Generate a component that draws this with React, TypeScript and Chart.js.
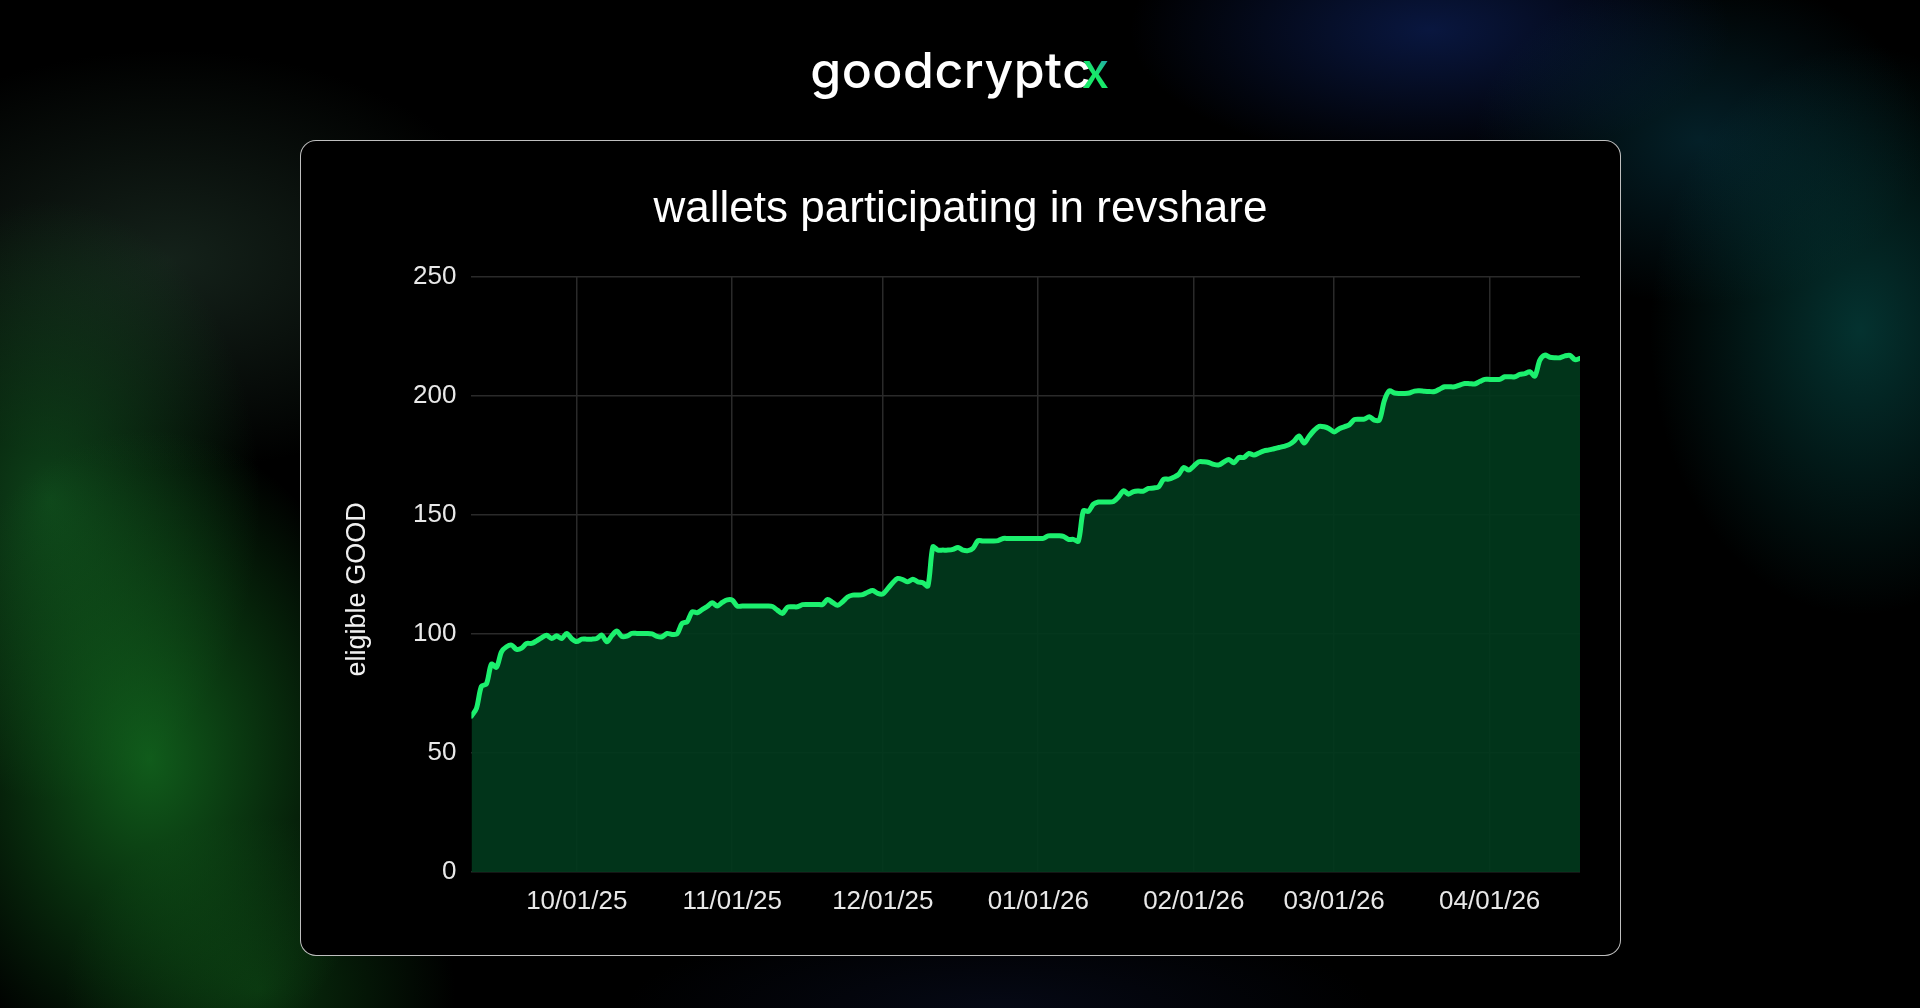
import React, { useEffect, useRef } from 'react';
import { Chart, registerables } from 'chart.js';

Chart.register(...registerables);

// Daily series starting 2025-09-10 (day index 0)
const chartTitle = 'wallets participating in revshare';
const yAxisTitle = 'eligible GOOD';

const walletCounts: number[] = [
  65.5, 68.7, 78, 79, 87.3, 86, 92.5, 94.6, 95.3, 93.5,
  94, 96, 96, 97.1, 98.4, 99.4, 98.1, 99.2, 98.1, 100.2,
  98, 96.8, 97.8, 97.8, 97.8, 98.1, 99.5, 96.7, 99.3, 101.2,
  98.9, 99.1, 100.2, 100.2, 100.2, 100.2, 100, 99, 98.8, 100.2,
  99.8, 100, 104.4, 105.1, 109.3, 108.9, 110.2, 111.5, 113.1, 111.7,
  113.2, 114.3, 114.2, 111.7, 111.7, 111.7, 111.7, 111.7, 111.7, 111.7,
  111.5, 110, 108.6, 111.2, 111.4, 111.4, 112.3, 112.4, 112.4, 112.4,
  112.4, 114.5, 113.2, 112, 113.5, 115.5, 116.3, 116.3, 116.5, 117.5,
  118.2, 117, 116.8, 119, 121.5, 123.3, 122.8, 121.9, 123, 121.9,
  121.5, 120.1, 136.6, 135.2, 135.2, 135.2, 135.5, 136.3, 135.2, 135,
  136, 139.2, 139, 139, 139, 139.2, 140.1, 140.1, 140.1, 140.1,
  140.1, 140.1, 140.1, 140.1, 140.1, 141.2, 141.2, 141.2, 141, 139.7,
  139.7, 139, 151.7, 151.5, 154.5, 155.4, 155.4, 155.4, 155.6, 157.5,
  160.1, 158.7, 159.8, 160, 160, 161.1, 161.3, 161.8, 165, 165,
  165.8, 167, 169.9, 168.8, 170.5, 172.3, 172.3, 172, 171.2, 171,
  172.2, 173.3, 171.9, 174.1, 174.1, 175.8, 175.1, 176, 176.9, 177.3,
  177.8, 178.3, 178.8, 179.5, 181, 183.1, 180.2, 183, 185.5, 187.2,
  187, 186.2, 184.8, 186.2, 187, 187.8, 190, 190.2, 190.2, 191.2,
  189.8, 189.8, 198, 202.1, 201.2, 201, 201, 201.2, 202, 202.1,
  201.9, 201.8, 201.8, 202.8, 203.8, 203.8, 203.8, 204.5, 205.2, 205.1,
  205, 206, 206.9, 206.9, 206.9, 206.9, 208, 208, 208, 209,
  209.3, 210.1, 208.3, 215, 217.1, 216.2, 216, 216, 216.8, 217,
  215.2, 215.7,
];

// Day indices (from 2025-09-10) of the first day of each month, with their labels
const monthTickDays = [21, 52, 82, 113, 144, 172, 203];
const monthTickLabels = ['10/01/25', '11/01/25', '12/01/25', '01/01/26', '02/01/26', '03/01/26', '04/01/26'];

const yMin = 0;
const yMax = 250;
const yStep = 50;

const FONT = '"Liberation Sans", Arial, Helvetica, sans-serif';

// Draws the rotated y-axis title, sitting slightly below the axis centre as in the reference
const yTitlePlugin = {
  id: 'yTitlePlugin',
  afterDraw(chart: any) {
    const { ctx, chartArea } = chart;
    ctx.save();
    ctx.font = `27px ${FONT}`;
    ctx.fillStyle = '#f0f0f0';
    ctx.textAlign = 'center';
    ctx.textBaseline = 'middle';
    ctx.translate(58, (chartArea.top + chartArea.bottom) / 2 + 15);
    ctx.rotate(-Math.PI / 2);
    ctx.fillText(yAxisTitle, 0, 0);
    ctx.restore();
  },
};

function RevshareChart() {
  const canvasRef = useRef<HTMLCanvasElement | null>(null);

  useEffect(() => {
    if (!canvasRef.current) return;
    const points = walletCounts.map((v, i) => ({ x: i, y: v }));
    const chart = new Chart(canvasRef.current, {
      type: 'line',
      data: {
        datasets: [
          {
            label: yAxisTitle,
            data: points,
            borderColor: '#1cf06e',
            backgroundColor: 'rgba(1, 56, 28, 0.92)',
            borderWidth: 5,
            pointRadius: 0,
            pointHoverRadius: 0,
            tension: 0.3,
            fill: 'origin',
            borderJoinStyle: 'round',
            borderCapStyle: 'round',
          },
        ],
      },
      plugins: [yTitlePlugin],
      options: {
        animation: false,
        responsive: true,
        maintainAspectRatio: false,
        layout: { padding: { left: 41, right: 41, top: 0, bottom: 0 } },
        plugins: {
          legend: { display: false },
          tooltip: { enabled: false },
          title: {
            display: true,
            text: chartTitle,
            color: '#ffffff',
            font: { family: FONT, size: 44, weight: 'normal' },
            padding: { top: 43.5, bottom: 40.5 },
          },
        },
        scales: {
          x: {
            type: 'linear',
            min: 0,
            max: walletCounts.length - 1,
            border: { display: false },
            grid: { color: '#2a2a2a', lineWidth: 1.5, drawTicks: false },
            afterBuildTicks: (scale: any) => {
              scale.ticks = monthTickDays.map((d) => ({ value: d }));
            },
            afterFit: (scale: any) => {
              scale.height = 84;
            },
            ticks: {
              color: '#e8e8e8',
              font: { family: FONT, size: 26 },
              padding: 14.5,
              maxRotation: 0,
              autoSkip: false,
              callback: (value: any) => {
                const idx = monthTickDays.indexOf(Number(value));
                return idx >= 0 ? monthTickLabels[idx] : '';
              },
            },
          },
          y: {
            min: yMin,
            max: yMax,
            border: { display: false },
            grid: { color: '#2a2a2a', lineWidth: 1.5, drawTicks: false },
            afterFit: (scale: any) => {
              scale.width = 130.4;
            },
            ticks: {
              stepSize: yStep,
              color: '#e8e8e8',
              font: { family: FONT, size: 26 },
              padding: 15,
            },
          },
        },
      },
    });
    return () => chart.destroy();
  }, []);

  return (
    <div style={{ position: 'absolute', left: 300, top: 140, width: 1321, height: 816 }}>
      <canvas ref={canvasRef} />
    </div>
  );
}

export default function App() {
  useEffect(() => {
    document.body.style.margin = '0';
    document.body.style.background = '#000';
  }, []);

  return (
    <div
      style={{
        position: 'fixed',
        inset: 0,
        overflow: 'hidden',
        background: [
          'radial-gradient(ellipse 320px 440px at 150px 760px, rgba(24,135,40,0.68), rgba(0,0,0,0) 75%)',
          'radial-gradient(ellipse 280px 400px at 50px 500px, rgba(24,115,44,0.58), rgba(0,0,0,0) 75%)',
          'radial-gradient(ellipse 260px 230px at 260px 990px, rgba(20,105,30,0.45), rgba(0,0,0,0) 75%)',
          'radial-gradient(ellipse 460px 280px at 170px 260px, rgba(45,75,58,0.45), rgba(0,0,0,0) 75%)',
          'radial-gradient(ellipse 280px 380px at 1860px 330px, rgba(8,100,95,0.5), rgba(0,0,0,0) 75%)',
          'radial-gradient(ellipse 300px 220px at 1700px 140px, rgba(10,80,100,0.4), rgba(0,0,0,0) 75%)',
          'radial-gradient(ellipse 400px 180px at 1430px 30px, rgba(20,50,140,0.45), rgba(0,0,0,0) 75%)',
          'radial-gradient(ellipse 500px 120px at 1000px 1008px, rgba(15,25,60,0.35), rgba(0,0,0,0) 75%)',
          '#000',
        ].join(', '),
      }}
    >
      <div
        style={{
          position: 'absolute',
          top: 45,
          left: 0,
          width: '100%',
          textAlign: 'center',
          fontFamily: 'Inter, Lato, "Noto Sans", sans-serif',
          fontWeight: 500,
          fontSize: 50,
          lineHeight: '50px',
          color: '#ffffff',
          letterSpacing: '0.5px',
        }}
      >
        goodcrypt
        <span>c</span>
        <span
          style={{
            marginLeft: '-0.2em',
            background: 'linear-gradient(45deg, #18e86a 0%, #18e86a 45%, #2a6ee0 100%)',
            WebkitBackgroundClip: 'text',
            backgroundClip: 'text',
            color: 'transparent',
          }}
        >
          x
        </span>
      </div>
      <div
        style={{
          position: 'absolute',
          left: 300,
          top: 140,
          width: 1321,
          height: 816,
          boxSizing: 'border-box',
          background: '#000',
          border: '1.5px solid rgba(225,225,225,0.85)',
          borderRadius: 16,
        }}
      />
      <RevshareChart />
    </div>
  );
}
